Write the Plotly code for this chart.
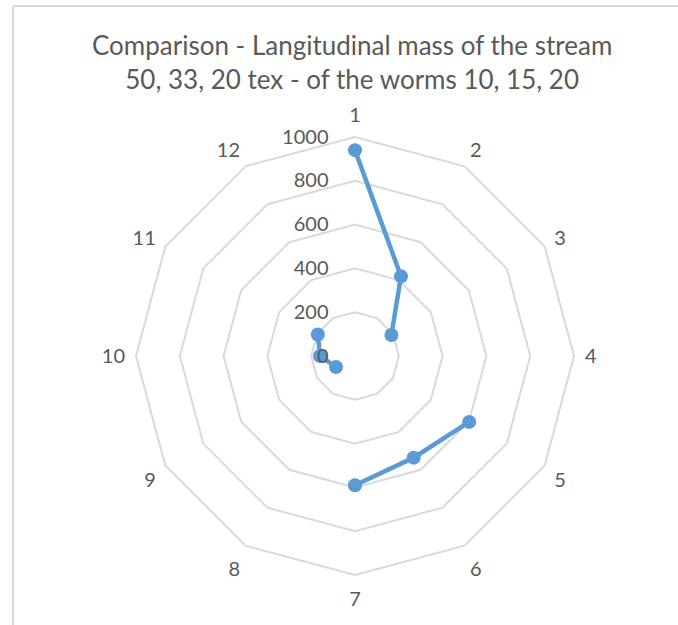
import plotly.graph_objects as go

# categories around the radar and the mass values
categories = ["1", "2", "3", "4", "5", "6", "7", "8", "9", "10", "11", "12"]
mass = [940, 420, 192, None, 602, 536, 590, None, 100, 160, 196, None]
radial_ticks = [0, 200, 400, 600, 800, 1000]

title_text = (
    "Comparison - Langitudinal mass of the stream<br>"
    "50, 33, 20 tex - of the worms 10, 15, 20"
)

W, H = 678, 625
grey = "#d9d9d9"
text_grey = "#595959"

fig = go.Figure()
fig.add_trace(
    go.Scatterpolar(
        r=mass,
        theta=categories,
        mode="lines+markers",
        line={"color": "#5b9bd5", "width": 4.5},
        marker={"color": "#5b9bd5", "size": 14},
        connectgaps=False,
        showlegend=False,
    )
)

fig.update_layout(
    width=W,
    height=H,
    margin={"l": 0, "r": 0, "t": 0, "b": 0},
    paper_bgcolor="white",
    font={"family": "Lato, Carlito, sans-serif", "color": text_grey, "size": 20},
    polar={
        "domain": {"x": [136 / W, 574 / W], "y": [1 - 575 / H, 1 - 137 / H]},
        "bgcolor": "white",
        "gridshape": "linear",
        "angularaxis": {
            "type": "category",
            "categoryarray": categories,
            "direction": "clockwise",
            "rotation": 90,
            "showgrid": False,
            "showline": True,
            "linecolor": grey,
            "linewidth": 2,
            "ticks": "outside",
            "ticklen": 6,
            "tickcolor": "rgba(0,0,0,0)",
            "tickfont": {"size": 20, "color": text_grey},
        },
        "radialaxis": {
            "range": [0, 1000],
            "tickvals": radial_ticks,
            "angle": 90,
            "tickangle": 90,
            "side": "counterclockwise",
            "showline": False,
            "ticks": "outside",
            "ticklen": 19,
            "tickcolor": "rgba(0,0,0,0)",
            "gridcolor": grey,
            "gridwidth": 2,
            "tickfont": {"size": 20, "color": text_grey},
        },
    },
    annotations=[
        {
            "text": title_text,
            "xref": "paper",
            "yref": "paper",
            "x": 352 / W,
            "y": 1 - 62 / H,
            "xanchor": "center",
            "yanchor": "middle",
            "showarrow": False,
            "font": {"size": 26, "color": text_grey},
        }
    ],
    shapes=[
        {"type": "line", "xref": "paper", "yref": "paper",
         "x0": 13 / W, "x1": 13 / W, "y0": 0, "y1": 1 - 6 / H,
         "line": {"color": grey, "width": 2}},
        {"type": "line", "xref": "paper", "yref": "paper",
         "x0": 13 / W, "x1": 1, "y0": 1 - 6 / H, "y1": 1 - 6 / H,
         "line": {"color": grey, "width": 2}},
    ],
)

# the page body has an 8px default margin; drop it so the figure fills the window
fig.write_html(
    "out.html",
    config={"displayModeBar": False},
    post_script="document.body.style.margin = '0';",
)
